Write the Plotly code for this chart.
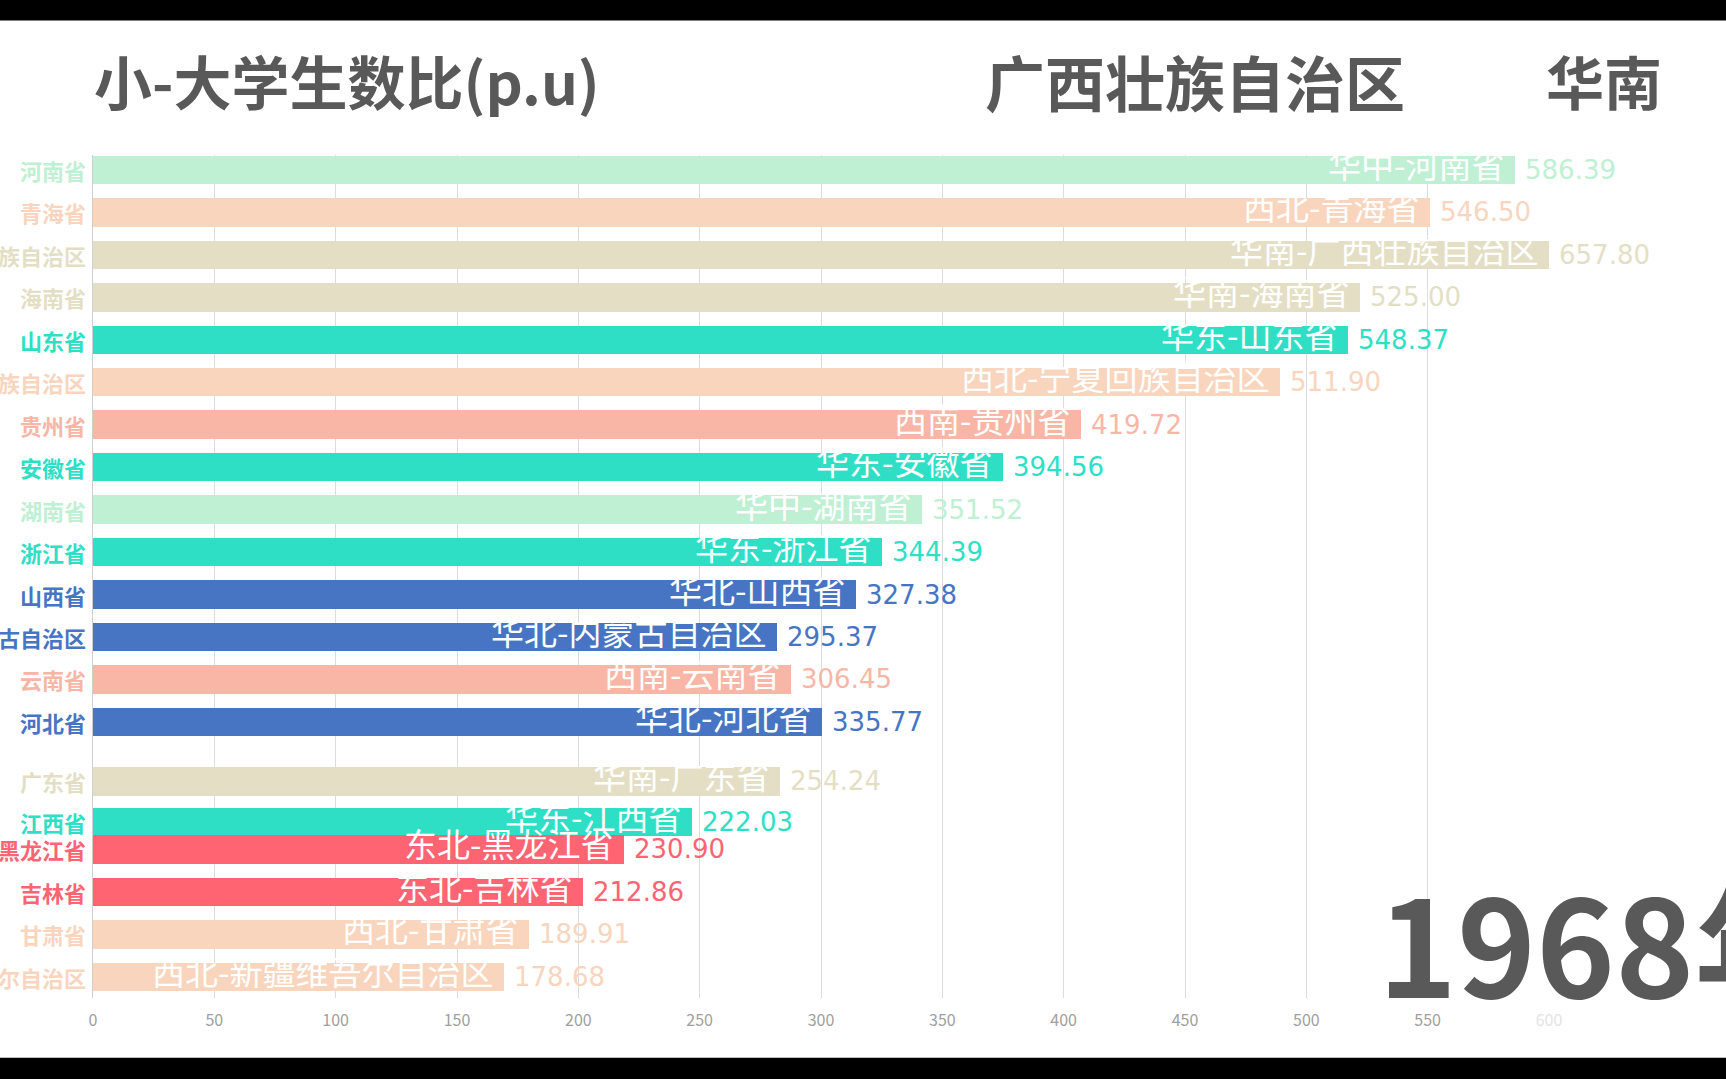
import plotly.graph_objects as go

# ---------------- data ----------------
title_text = "小-大学生数比(p.u)"
focus_province = "广西壮族自治区"
focus_region = "华南"
year_text = "1968年"

provinces = ["河南省", "青海省", "广西壮族自治区", "海南省", "山东省", "宁夏回族自治区",
             "贵州省", "安徽省", "湖南省", "浙江省", "山西省", "内蒙古自治区", "云南省",
             "河北省", "广东省", "江西省", "黑龙江省", "吉林省", "甘肃省", "新疆维吾尔自治区"]
regions = ["华中", "西北", "华南", "华南", "华东", "西北", "西南", "华东", "华中", "华东",
           "华北", "华北", "西南", "华北", "华南", "华东", "东北", "东北", "西北", "西北"]
# drawn bar lengths in this animation frame
bar_values = [586.0, 551.0, 600.0, 522.0, 517.0, 489.0, 407.0, 375.0, 341.5, 325.0,
              314.5, 282.0, 287.5, 300.5, 283.0, 247.0, 219.0, 202.0, 179.5, 169.5]
# numbers printed next to the bars
label_values = [586.39, 546.50, 657.80, 525.00, 548.37, 511.90, 419.72, 394.56, 351.52, 344.39,
                327.38, 295.37, 306.45, 335.77, 254.24, 222.03, 230.90, 212.86, 189.91, 178.68]
# rank slot of each bar in this frame (some bars are mid-swap)
ranks = [0, 1, 2, 3, 4, 5, 6, 7, 8, 9, 10, 11, 12, 13, 14.4, 15.35, 16.0, 17.0, 18.0, 19.0]

x_ticks = [0, 50, 100, 150, 200, 250, 300, 350, 400, 450, 500, 550, 600]

region_colors = {
    "华中": "#bff0d3",
    "西北": "#f9d5be",
    "华南": "#e4dfc4",
    "华东": "#2edfc6",
    "西南": "#f9b6a7",
    "华北": "#4775c3",
    "东北": "#fe6472",
}

# ---------------- layout geometry ----------------
W, H = 1726, 1079
L, R = 92.7, 1549.0
T, B = 154.6, 998.25
FONT = "Noto Sans CJK SC"
NUM_FONT = "DejaVu Sans"

def xp(px):
    return (px - L) / (R - L)

def yp(py):
    return (B - py) / (B - T)

colors = [region_colors[r] for r in regions]

fig = go.Figure()
fig.add_trace(go.Bar(
    x=bar_values, y=ranks, orientation="h", width=0.67,
    marker=dict(color=colors, line=dict(width=0)),
    hoverinfo="skip", showlegend=False,
))

annotations = []
for p, reg, bv, lv, rk, c in zip(provinces, regions, bar_values, label_values, ranks, colors):
    # category label at left
    annotations.append(dict(
        x=0, y=rk, xref="x", yref="y", text=f"<b>{p}</b>", showarrow=False,
        xanchor="right", yanchor="middle", xshift=-5,
        font=dict(family=FONT, size=22, color=c),
    ))
    # label inside bar end
    annotations.append(dict(
        x=bv, y=rk, xref="x", yref="y", text=f"{reg}-{p}", showarrow=False,
        xanchor="right", yanchor="middle", xshift=-9, yshift=6,
        font=dict(family=FONT, size=33, color="white"),
    ))
    # value label after bar end
    annotations.append(dict(
        x=bv, y=rk, xref="x", yref="y", text=f"{lv:.2f}", showarrow=False,
        xanchor="left", yanchor="middle", xshift=8,
        font=dict(family=NUM_FONT, size=26, color=c),
    ))

# titles
annotations.append(dict(
    x=xp(92), y=yp(80), xref="paper", yref="paper", text=f"<b>{title_text}</b>",
    showarrow=False, xanchor="left", yanchor="middle",
    font=dict(family=FONT, size=58, color="#595959"),
))
annotations.append(dict(
    x=xp(983), y=yp(80), xref="paper", yref="paper", text=f"<b>{focus_province}</b>",
    showarrow=False, xanchor="left", yanchor="middle",
    font=dict(family=FONT, size=60, color="#595959"),
))
annotations.append(dict(
    x=xp(1544), y=yp(80), xref="paper", yref="paper", text=f"<b>{focus_region}</b>",
    showarrow=False, xanchor="left", yanchor="middle",
    font=dict(family=FONT, size=58, color="#595959"),
))
annotations.append(dict(
    x=xp(1376), y=yp(940), xref="paper", yref="paper", text=f"<b>{year_text}</b>",
    showarrow=False, xanchor="left", yanchor="middle",
    font=dict(family=FONT, size=134, color="#595959"),
))

tick_text = [str(v) if v < 600 else f'<span style="color:#e4e4e4">{v}</span>' for v in x_ticks]

fig.update_layout(
    width=W, height=H,
    margin=dict(l=L, r=W - R, t=T, b=H - B, pad=0),
    paper_bgcolor="white", plot_bgcolor="white",
    bargap=0,
    xaxis=dict(range=[0, 600], tickvals=x_ticks, ticktext=tick_text,
               showgrid=True, gridcolor="#dcdcdc", gridwidth=1, zeroline=False,
               showline=False, ticks="", ticklabelstandoff=11,
               tickfont=dict(family="Liberation Sans Narrow, " + FONT, size=16, color="#a0a0a0"),
               fixedrange=True),
    yaxis=dict(range=[19.5, -0.35], showticklabels=False, showgrid=False, zeroline=False,
               showline=True, linecolor="#cfcfcf", linewidth=1, fixedrange=True),
    annotations=annotations,
    shapes=[
        dict(type="rect", xref="paper", yref="paper", x0=-1, x1=2, y0=yp(20), y1=2,
             fillcolor="black", line=dict(width=0), layer="above"),
        dict(type="rect", xref="paper", yref="paper", x0=-1, x1=2, y0=-1, y1=yp(1058),
             fillcolor="black", line=dict(width=0), layer="above"),
    ],
)

fig.write_html(
    "out.html",
    config={"displayModeBar": False},
    post_script="document.body.style.margin='0';document.body.style.overflow='hidden';",
)
